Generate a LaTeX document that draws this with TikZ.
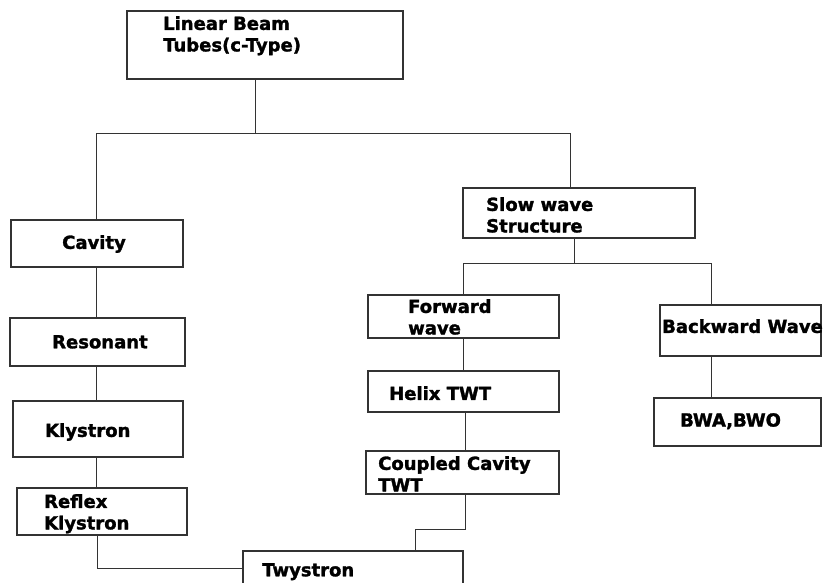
\documentclass[tikz,border=0pt]{standalone}
\usepackage{fontspec}
\setmainfont{DejaVu Sans}
\newfontfamily\heavy[FakeBold=1.6]{DejaVu Sans Bold}
\usepackage{tikz}
\usepackage{xcolor}
\definecolor{ln}{HTML}{333333}
\tikzstyle{box}=[draw=ln,line width=1.3pt,rectangle,inner sep=0pt,outer sep=0pt]
\tikzstyle{lbl}=[anchor=north west,inner sep=0pt,align=left,
  font=\fontsize{18}{21.5}\selectfont\heavy]
\tikzstyle{wire}=[draw=ln,line width=1pt]

\begin{document}
\begin{tikzpicture}[x=1pt,y=-1pt]
  \useasboundingbox (0,0) rectangle (823,583);
  % boxes
  \node[box,minimum width=276,minimum height=68] (tubes) at (265,45) {};
  \node[box,minimum width=232,minimum height=50] (slow) at (579,213) {};
  \node[box,minimum width=172,minimum height=47] (cavity) at (97,243.5) {};
  \node[box,minimum width=175,minimum height=48] (reson) at (97.5,342) {};
  \node[box,minimum width=170,minimum height=56] (klys) at (98,429) {};
  \node[box,minimum width=170,minimum height=47] (reflex) at (102,511.5) {};
  \node[box,minimum width=220,minimum height=34] (twys) at (353,568) {};
  \node[box,minimum width=191,minimum height=43] (fwd) at (463.5,316.5) {};
  \node[box,minimum width=191,minimum height=41] (helix) at (463.5,391.5) {};
  \node[box,minimum width=193,minimum height=43] (ccav) at (462.5,472.5) {};
  \node[box,minimum width=161,minimum height=51] (bwd) at (740.5,330.5) {};
  \node[box,minimum width=167,minimum height=48] (bwo) at (737.5,422) {};
  % texts
  \node[lbl] (tubes-t) at (163,16) {Linear Beam\\Tubes(c-Type)};
  \node[lbl] (slow-t) at (486,197) {Slow wave\\Structure};
  \node[lbl] (cavity-t) at (62,235) {Cavity};
  \node[lbl] (reson-t) at (52,335) {Resonant};
  \node[lbl] (klys-t) at (45,423) {Klystron};
  \node[lbl] (reflex-t) at (44,494) {Reflex\\Klystron};
  \node[lbl] (twys-t) at (262,563) {Twystron};
  \node[lbl] (fwd-t) at (408,299) {Forward\\wave};
  \node[lbl] (helix-t) at (389,386) {Helix TWT};
  \node[lbl] (ccav-t) at (378,456) {Coupled Cavity\\TWT};
  \node[lbl] (bwd-t) at (662,319) {Backward Wave};
  \node[lbl] (bwo-t) at (680,413) {BWA,BWO};
  % junctions
  \coordinate (top) at (255,134);
  \coordinate (topl) at (96,134);
  \coordinate (topr) at (570,134);
  \coordinate (mid) at (574,264);
  \coordinate (midl) at (463,264);
  \coordinate (midr) at (711,264);
  \coordinate (up1) at (465,529);
  \coordinate (up2) at (415,529);
  % connectors
  \draw[wire] (tubes.south -| top) -- (top);
  \draw[wire] (cavity.north -| topl) -- (topl) -- (topr) -- (slow.north -| topr);
  \draw[wire] (slow.south -| mid) -- (mid);
  \draw[wire] (fwd.north -| midl) -- (midl) -- (midr) -- (bwd.north -| midr);
  \draw[wire] (cavity.south -| topl) -- (reson.north -| topl);
  \draw[wire] (reson.south -| topl) -- (klys.north -| topl);
  \draw[wire] (klys.south -| topl) -- (reflex.north -| topl);
  \draw[wire] (reflex.south -| 97,0) |- (twys.west);
  \draw[wire] (fwd.south -| midl) -- (helix.north -| midl);
  \draw[wire] (helix.south -| up1) -- (ccav.north -| up1);
  \draw[wire] (ccav.south -| up1) -- (up1) -- (up2) -- (twys.north -| up2);
  \draw[wire] (bwd.south -| midr) -- (bwo.north -| midr);
\end{tikzpicture}
\end{document}
